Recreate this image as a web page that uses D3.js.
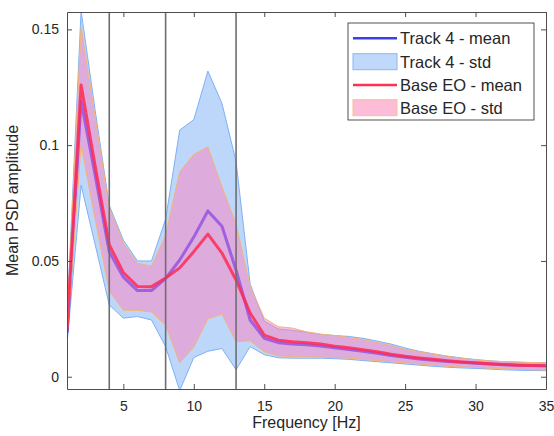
<!DOCTYPE html>
<html>
<head>
<script src="https://d3js.org/d3.v7.min.js"></script>
<style>
  body { margin: 0; background: #fff; }
  text { font-family: "Liberation Sans", Arial, sans-serif; fill: #262626; }
</style>
</head>
<body>
<svg width="554" height="436"></svg>
<script>

// frequency bins (Hz)
var freqs = [1,2,3,4,5,6,7,8,9,10,11,12,13,14,15,16,17,18,19,20,21,22,23,24,25,26,27,28,29,30,31,32,33,34,35];

// Track 4
var t4Mean  = [0.019,0.119,0.087,0.054,0.043,0.0372,0.0372,0.0425,0.0504,0.0603,0.0716,0.065,0.046,0.0245,0.0166,0.0147,0.0141,0.0138,0.0133,0.0125,0.0118,0.011,0.0101,0.0092,0.0084,0.0077,0.0071,0.0066,0.0062,0.0058,0.0055,0.0052,0.005,0.0048,0.0047];
var t4Upper = [0.026,0.158,0.115,0.074,0.059,0.050,0.050,0.068,0.1065,0.111,0.132,0.118,0.093,0.040,0.024,0.0206,0.020,0.0192,0.0183,0.0178,0.0174,0.0166,0.0154,0.0141,0.0124,0.011,0.0099,0.0089,0.0081,0.0074,0.0069,0.0065,0.0063,0.0061,0.006];
var t4Lower = [0.014,0.0827,0.057,0.031,0.0253,0.026,0.0245,0.013,-0.006,0.0083,0.011,0.0122,0.003,0.013,0.0095,0.0082,0.008,0.008,0.008,0.0078,0.0075,0.007,0.0065,0.006,0.0055,0.005,0.0045,0.0041,0.0038,0.0036,0.0033,0.003,0.0028,0.0027,0.0026];

// Base EO
var baseMean  = [0.020,0.126,0.091,0.057,0.045,0.039,0.0389,0.0426,0.047,0.054,0.0616,0.0534,0.0418,0.0275,0.018,0.0158,0.0151,0.0147,0.0141,0.0132,0.0125,0.0117,0.0108,0.0097,0.0088,0.0081,0.0075,0.0069,0.0064,0.006,0.0056,0.0053,0.005,0.0048,0.0047];
var baseUpper = [0.024,0.151,0.112,0.073,0.0577,0.049,0.0478,0.061,0.0885,0.096,0.0993,0.082,0.066,0.039,0.0253,0.0216,0.021,0.0194,0.0184,0.0178,0.017,0.016,0.0148,0.0135,0.0118,0.0108,0.0098,0.0088,0.008,0.0073,0.0068,0.0065,0.0063,0.0061,0.006];
var baseLower = [0.017,0.100,0.068,0.037,0.0287,0.0287,0.028,0.0223,0.006,0.0128,0.025,0.027,0.0151,0.0155,0.0108,0.009,0.0087,0.0086,0.0085,0.0083,0.008,0.0075,0.007,0.0065,0.006,0.0055,0.005,0.0045,0.0042,0.004,0.0037,0.0034,0.0032,0.003,0.0029];

// band edges (Hz)
var bandLines = [4, 8, 13];

var xTicks = [5,10,15,20,25,30,35];
var yTicks = [0, 0.05, 0.1, 0.15];
var yTickLabels = ["0", "0.05", "0.1", "0.15"];

var legendLabels = ["Track 4 - mean", "Track 4 - std", "Base EO - mean", "Base EO - std"];

var svg = d3.select("svg"),
    mLeft = 67, mTop = 12,
    width = 479, height = 377;

var x = d3.scaleLinear().domain([1, 35]).range([0, width]);
var y = d3.scaleLinear().domain([-0.0053, 0.1575]).range([height, 0]);

var g = svg.append("g").attr("transform", "translate(" + mLeft + "," + mTop + ")");

g.append("clipPath").attr("id", "clip")
  .append("rect").attr("width", width).attr("height", height);

var plot = g.append("g").attr("clip-path", "url(#clip)");

function band(lo, hi) {
  return d3.area()
    .x(function(d, i) { return x(freqs[i]); })
    .y0(function(d, i) { return y(lo[i]); })
    .y1(function(d, i) { return y(hi[i]); })(freqs);
}
function line(v) {
  return d3.line()
    .x(function(d, i) { return x(freqs[i]); })
    .y(function(d, i) { return y(v[i]); })(freqs);
}

// track 4 std
plot.append("path")
  .attr("d", band(t4Lower, t4Upper))
  .attr("fill", "#9cc4f8").attr("fill-opacity", 0.68)
  .attr("stroke", "#7fb0f6").attr("stroke-width", 1);

plot.append("path")
  .attr("d", line(t4Mean))
  .attr("fill", "none").attr("stroke", "#4040ff").attr("stroke-width", 3)
  .attr("stroke-linejoin", "round");

// base EO std
plot.append("path")
  .attr("d", band(baseLower, baseUpper))
  .attr("fill", "#ff80c0").attr("fill-opacity", 0.5)
  .attr("stroke", "#f5b27a").attr("stroke-width", 1);

plot.append("path")
  .attr("d", line(baseMean))
  .attr("fill", "none").attr("stroke", "#ff2a55").attr("stroke-opacity", 0.85).attr("stroke-width", 3)
  .attr("stroke-linejoin", "round");

// vertical band lines
g.selectAll(".vline")
  .data(bandLines)
  .enter().append("line")
  .attr("x1", function(d) { return x(d); })
  .attr("x2", function(d) { return x(d); })
  .attr("y1", 0).attr("y2", height)
  .attr("stroke", "#6e6e6e").attr("stroke-width", 1.6);

// axes, matlab style ticks inward, box on
var axisCol = "#4d4d4d";
var xa = g.append("g").attr("transform", "translate(0," + height + ")")
  .call(d3.axisBottom(x).tickValues(xTicks).tickSizeInner(-5).tickSizeOuter(0).tickPadding(12));
var xt = g.append("g")
  .call(d3.axisTop(x).tickValues(xTicks).tickSizeInner(-5).tickSizeOuter(0).tickFormat(""));
var ya = g.append("g")
  .call(d3.axisLeft(y).tickValues(yTicks).tickSizeInner(-5).tickSizeOuter(0).tickPadding(8)
    .tickFormat(function(d, i) { return yTickLabels[i]; }));
var yr = g.append("g").attr("transform", "translate(" + width + ",0)")
  .call(d3.axisRight(y).tickValues(yTicks).tickSizeInner(-5).tickSizeOuter(0).tickFormat(""));

[xa, xt, ya, yr].forEach(function(a) {
  a.select(".domain").attr("stroke", axisCol);
  a.selectAll(".tick line").attr("stroke", axisCol);
  a.selectAll("text").attr("font-size", 14).attr("font-family", "Liberation Sans, Arial, sans-serif").attr("fill", "#262626");
});

g.append("text")
  .attr("x", width / 2).attr("y", height + 39)
  .attr("text-anchor", "middle").attr("font-size", 16)
  .text("Frequency [Hz]");

g.append("text")
  .attr("transform", "rotate(-90)")
  .attr("x", -height / 2).attr("y", -49)
  .attr("text-anchor", "middle").attr("font-size", 16)
  .text("Mean PSD amplitude");

// legend
var lg = svg.append("g").attr("transform", "translate(348,23)");
lg.append("rect").attr("width", 186).attr("height", 97)
  .attr("fill", "#fff").attr("stroke", "#262626").attr("stroke-width", 0.8);

var rows = [15.3, 38.7, 62, 84.7];
lg.append("line").attr("x1", 5).attr("x2", 49).attr("y1", rows[0]).attr("y2", rows[0])
  .attr("stroke", "#3c3cf0").attr("stroke-width", 2.5);
lg.append("rect").attr("x", 5).attr("y", rows[1] - 8).attr("width", 44).attr("height", 16)
  .attr("fill", "#c0d9fb").attr("stroke", "#8ab6f6");
lg.append("line").attr("x1", 5).attr("x2", 49).attr("y1", rows[2]).attr("y2", rows[2])
  .attr("stroke", "#ff3050").attr("stroke-width", 2.5);
lg.append("rect").attr("x", 5).attr("y", rows[3] - 8).attr("width", 44).attr("height", 16)
  .attr("fill", "#fdbcd8").attr("stroke", "#f8c090");

lg.selectAll(".lbl")
  .data(legendLabels)
  .enter().append("text")
  .attr("x", 52)
  .attr("y", function(d, i) { return rows[i] + 6; })
  .attr("font-size", 16.5)
  .text(function(d) { return d; });

</script>
</body>
</html>
